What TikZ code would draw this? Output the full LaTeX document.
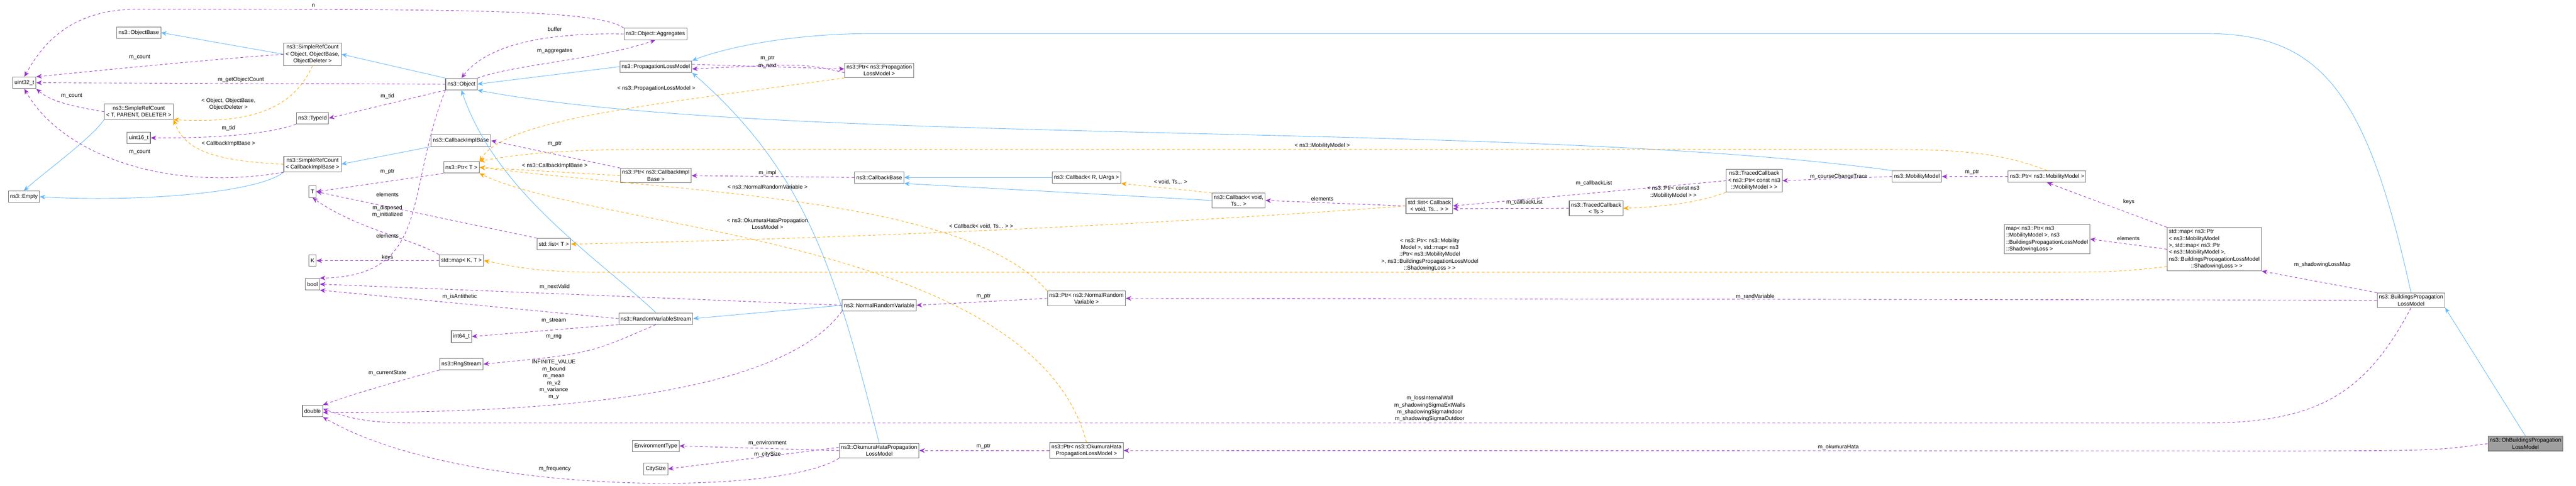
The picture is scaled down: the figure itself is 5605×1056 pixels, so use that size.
\documentclass[tikz,border=0pt]{standalone}
\usepackage{fontspec}
\setmainfont{Liberation Sans}
\usetikzlibrary{arrows.meta}
\definecolor{inhblue}{HTML}{63B8FF}
\definecolor{usepurple}{HTML}{9A32CD}
\definecolor{tplorange}{HTML}{FFA500}
\tikzset{%
  cls/.style={draw=gray!90!black, fill=white, line width=1.2pt, align=center, inner sep=4pt, minimum height=25pt, font=\fontsize{12}{15}\selectfont},
  lbl/.style={align=center, inner sep=0pt, font=\fontsize{12}{15}\selectfont},
  inh/.style={draw=inhblue, line width=1pt, -{Stealth[length=12pt,width=10pt]}},
  use/.style={draw=usepurple, line width=1pt, dash pattern=on 6pt off 5pt, -{Stealth[length=12pt,width=10pt]}},
  tpl/.style={draw=tplorange, line width=1pt, dash pattern=on 6pt off 5pt, -{Stealth[length=12pt,width=10pt]}}
}
\begin{document}
\begin{tikzpicture}[x=1pt, y=-1pt]
\useasboundingbox (0,0) rectangle (5605,1056);

% classes
\node [cls] (uint32) at (53,180) {uint32\_t};
\node [cls] (objbase) at (302,71) {ns3::ObjectBase};
\node [cls] (srcobj) at (680,118) {ns3::SimpleRefCount\\{}< Object, ObjectBase,\\ObjectDeleter >};
\node [cls] (srctpd) at (302,243) {ns3::SimpleRefCount\\{}< T, PARENT, DELETER >};
\node [cls] (typeid) at (680,257) {ns3::TypeId};
\node [cls] (uint16) at (302,300) {uint16\_t};
\node [cls] (srccib) at (680,357) {ns3::SimpleRefCount\\{}< CallbackImplBase >};
\node [cls] (empty) at (52,428) {ns3::Empty};
\node [cls] (tT) at (680,417) {T};
\node [cls] (kK) at (680,567) {K};
\node [cls] (bool) at (680,618) {bool};
\node [cls] (double) at (680,894) {double};
\node [cls] (object) at (1004,183) {ns3::Object};
\node [cls] (cibase) at (1003,306) {ns3::CallbackImplBase};
\node [cls] (ptrT) at (1004,364) {ns3::Ptr< T >};
\node [cls] (listT) at (1205,531) {std::list< T >};
\node [cls] (mapKT) at (1004,567) {std::map< K, T >};
\node [cls] (int64) at (1004,732) {int64\_t};
\node [cls] (rng) at (1004,792) {ns3::RngStream};
\node [cls] (aggr) at (1426,74) {ns3::Object::Aggregates};
\node [cls] (plm) at (1427,145) {ns3::PropagationLossModel};
\node [cls] (ptrcib) at (1427,382) {ns3::Ptr< ns3::CallbackImpl\\Base >};
\node [cls] (rvs) at (1427,693) {ns3::RandomVariableStream};
\node [cls] (envt) at (1427,970) {EnvironmentType};
\node [cls] (city) at (1427,1020) {CitySize};
\node [cls] (ptrplm) at (1913,153) {ns3::Ptr< ns3::Propagation\\LossModel >};
\node [cls] (cbbase) at (1913,386) {ns3::CallbackBase};
\node [cls] (nrv) at (1913,664) {ns3::NormalRandomVariable};
\node [cls] (oh) at (1913,980) {ns3::OkumuraHataPropagation\\LossModel};
\node [cls] (cbR) at (2364,386) {ns3::Callback< R, UArgs >};
\node [cls] (ptrnrv) at (2364,649) {ns3::Ptr< ns3::NormalRandom\\Variable >};
\node [cls] (ptroh) at (2364,980) {ns3::Ptr< ns3::OkumuraHata\\PropagationLossModel >};
\node [cls] (cbvoid) at (2695,436) {ns3::Callback< void,\\Ts... >};
\node [cls] (listcb) at (3110,448) {std::list< Callback\\{}< void, Ts... > >};
\node [cls] (tcbts) at (3473,453) {ns3::TracedCallback\\{}< Ts >};
\node [cls] (tcbmm) at (3817,393) {ns3::TracedCallback\\{}< ns3::Ptr< const ns3\\::MobilityModel > >};
\node [cls] (mm) at (4171,384) {ns3::MobilityModel};
\node [cls] (ptrmm) at (4454,384) {ns3::Ptr< ns3::MobilityModel >};
\node [cls, align=left] (mapsl) at (4454,520) {map< ns3::Ptr< ns3\\::MobilityModel >, ns3\\::BuildingsPropagationLossModel\\::ShadowingLoss >};
\node [cls, align=left] (stdmap) at (4818,542) {std::map< ns3::Ptr\\{}< ns3::MobilityModel\\ >, std::map< ns3::Ptr\\{}< ns3::MobilityModel >,\\ ns3::BuildingsPropagationLossModel\\\hspace*{4em}::ShadowingLoss > >};
\node [cls] (bplm) at (5246,653) {ns3::BuildingsPropagation\\LossModel};
\node [cls, fill=gray!75] (ohb) at (5495,965) {ns3::OhBuildingsPropagation\\LossModel};

% inheritance
\draw [inh] (srcobj.west) -- (objbase.east);
\draw [inh] (object.north west) -- (srcobj.east);
\draw [inh] (srctpd.south west) .. controls (200,300) and (90,380) .. (empty.north);
\draw [inh] (srccib.south west) .. controls (560,420) and (300,440) .. (empty.east);
\draw [inh] (cibase.south west) -- (srccib.east);
\draw [inh] (plm.west) -- (object.east);
\draw [inh] (mm.north west) .. controls (3300,260) and (1700,320) .. (object.south east);
\draw [inh] (rvs.north) .. controls (1300,560) and (1080,420) .. (object.south);
\draw [inh] (oh.north) .. controls (1820,600) and (1760,380) .. (plm.south east);
\draw [inh] (bplm.north) .. controls (5150,200) and (5050,73) .. (4800,73) -- (1900,73) .. controls (1700,73) and (1560,110) .. (plm.north east);
\draw [inh] (nrv.west) -- (rvs.east);
\draw [inh] (cbR.west) -- (cbbase.east);
\draw [inh] (cbvoid.west) -- (cbbase.south east);
\draw [inh] (ohb.north) -- (bplm.south east);

% members
\draw [use] (srcobj.west) .. controls (450,130) and (250,150) .. (uint32.north east);
\draw [use] (object.west) -- node [lbl, above=2pt] {m\_getObjectCount} (uint32.east);
\draw [use] (aggr.north west) .. controls (1300,20) and (1000,20) .. (300,20) .. controls (150,20) and (90,100) .. (uint32.north);
\draw [use] (srctpd.west) .. controls (150,230) and (110,220) .. (uint32.south east);
\draw [use] (srccib.south west) .. controls (350,420) and (130,330) .. (uint32.south);
\draw [use] (object.south west) -- (typeid.east);
\draw [use] (typeid.south west) .. controls (560,300) and (400,300) .. (uint16.east);
\draw [use] (ptrT.south west) -- (tT.east);
\draw [use] (listT.north west) -- (tT.east);
\draw [use] (mapKT.north west) .. controls (900,520) and (780,500) .. (tT.south);
\draw [use] (mapKT.west) -- (kK.east);
\draw [use] (object.south west) .. controls (880,420) and (940,600) .. (bool.north east);
\draw [use] (aggr.west) .. controls (1150,70) and (1050,110) .. (object.north);
\draw [use] (object.north east) .. controls (1120,140) and (1300,130) .. (aggr.south);
\draw [use] ([yshift=-5pt]ptrplm.west) .. controls (1750,138) .. ([yshift=-5pt]plm.east);
\draw [use] ([yshift=5pt]plm.east) -- ([yshift=3pt]ptrplm.west);
\draw [use] (ptrcib.north west) -- (cibase.east);
\draw [use] (cbbase.west) -- (ptrcib.east);
\draw [use] (ptrnrv.west) -- (nrv.east);
\draw [use] (nrv.west) -- (bool.east);
\draw [use] (rvs.west) -- (bool.south east);
\draw [use] (rvs.south west) -- (int64.east);
\draw [use] (rvs.south) .. controls (1280,770) .. (rng.east);
\draw [use] (rng.south west) .. controls (860,830) and (760,860) .. (double.north east);
\draw [use] (nrv.south west) .. controls (1700,860) and (1200,900) .. ([yshift=-3pt]double.east);
\draw [use] (bplm.south) .. controls (5150,850) and (5050,920) .. (4800,920) -- (900,920) .. controls (800,920) and (760,910) .. ([yshift=5pt]double.east);
\draw [use] (oh.south west) .. controls (1700,1080) and (1000,1080) .. (double.south east);
\draw [use] (oh.west) -- (envt.east);
\draw [use] ([yshift=7pt]oh.west) -- (city.east);
\draw [use] (ptroh.west) -- (oh.east);
\draw [use] (ohb.west) .. controls (5300,980) .. (5000,981) -- (ptroh.east);
\draw [use] (bplm.west) -- (ptrnrv.east);
\draw [use] (bplm.north west) -- (stdmap.south east);
\draw [use] (stdmap.west) -- (mapsl.east);
\draw [use] (stdmap.north west) -- (ptrmm.south);
\draw [use] (ptrmm.west) -- (mm.east);
\draw [use] (mm.west) -- (tcbmm.east);
\draw [use] (tcbmm.west) -- (listcb.east);
\draw [use] (tcbts.west) -- ([yshift=-6pt]listcb.east);
\draw [use] (listcb.west) -- (cbvoid.east);

% templates
\draw [tpl] (srcobj.south) .. controls (640,230) and (560,270) .. (srctpd.south east);
\draw [tpl] (srccib.west) .. controls (450,350) and (400,320) .. (srctpd.south east);
\draw [tpl] (ptrplm.south west) .. controls (1400,230) and (1100,260) .. (ptrT.north east);
\draw [tpl] (ptrcib.west) -- (ptrT.east);
\draw [tpl] (ptrnrv.north west) .. controls (2100,430) and (1500,420) .. (ptrT.east);
\draw [tpl] (ptroh.north) .. controls (2250,520) and (1300,500) .. (ptrT.south east);
\draw [tpl] (ptrmm.north) .. controls (4350,330) and (4250,325) .. (4100,325) -- (1400,325) .. controls (1200,325) and (1100,340) .. (ptrT.north east);
\draw [tpl] (listcb.west) .. controls (2500,490) and (1800,520) .. (listT.east);
\draw [tpl] (cbvoid.north west) -- (cbR.south east);
\draw [tpl] (tcbmm.south west) .. controls (3700,440) and (3620,450) .. (tcbts.east);
\draw [tpl] (stdmap.west |- 0,580) .. controls (4600,592) .. (4400,592) -- (1300,592) .. controls (1150,592) and (1100,575) .. (mapKT.east);

% labels
\node [lbl] (l1) at (682,12) {n};
\node [lbl] (l2) at (304,125) {m\_count};
\node [lbl] (l3) at (156,209) {m\_count};
\node [lbl] (l4) at (497,227) {< Object, ObjectBase,\\ObjectDeleter >};
\node [lbl] (l5) at (843,209) {m\_tid};
\node [lbl] (l6) at (497,279) {m\_tid};
\node [lbl] (l7) at (497,313) {< CallbackImplBase >};
\node [lbl] (l8) at (304,331) {m\_count};
\node [lbl] (l9) at (843,373) {m\_ptr};
\node [lbl] (l10) at (843,423) {elements};
\node [lbl] (l11) at (843,460) {m\_disposed\\m\_initialized};
\node [lbl] (l12) at (843,513) {elements};
\node [lbl] (l13) at (843,560) {keys};
\node [lbl] (l14) at (1000,645) {m\_isAntithetic};
\node [lbl] (l15) at (843,811) {m\_currentState};
\node [lbl] (l16) at (1207,63) {buffer};
\node [lbl] (l17) at (1207,111) {m\_aggregates};
\node [lbl] (l18) at (1670,127) {m\_ptr};
\node [lbl] (l19) at (1670,144) {m\_next};
\node [lbl] (l20) at (1428,192) {< ns3::PropagationLossModel >};
\node [lbl] (l21) at (1207,313) {m\_ptr};
\node [lbl] (l22) at (1207,361) {< ns3::CallbackImplBase >};
\node [lbl] (l23) at (1670,376) {m\_impl};
\node [lbl] (l24) at (1670,407) {< ns3::NormalRandomVariable >};
\node [lbl] (l25) at (1670,487) {< ns3::OkumuraHataPropagation\\LossModel >};
\node [lbl] (l26) at (2135,493) {< Callback< void, Ts... > >};
\node [lbl] (l27) at (1207,624) {m\_nextValid};
\node [lbl] (l28) at (1205,697) {m\_stream};
\node [lbl] (l29) at (1205,733) {m\_rng};
\node [lbl] (l30) at (1205,826) {INFINITE\_VALUE\\m\_bound\\m\_mean\\m\_v2\\m\_variance\\m\_y};
\node [lbl] (l31) at (1670,964) {m\_environment};
\node [lbl] (l32) at (1670,988) {m\_citySize};
\node [lbl] (l33) at (1207,1020) {m\_frequency};
\node [lbl] (l34) at (2140,645) {m\_ptr};
\node [lbl] (l35) at (2140,971) {m\_ptr};
\node [lbl] (l36) at (2877,317) {< ns3::MobilityModel >};
\node [lbl] (l37) at (2547,396) {< void, Ts... >};
\node [lbl] (l38) at (2877,432) {elements};
\node [lbl] (l39) at (3317,440) {m\_callbackList};
\node [lbl] (l40) at (3111,554) {< ns3::Ptr< ns3::Mobility\\Model >, std::map< ns3\\::Ptr< ns3::MobilityModel\\ >, ns3::BuildingsPropagationLossModel\\::ShadowingLoss > >};
\node [lbl] (l41) at (3111,889) {m\_lossInternalWall\\m\_shadowingSigmaExtWalls\\m\_shadowingSigmaIndoor\\m\_shadowingSigmaOutdoor};
\node [lbl] (l42) at (3468,399) {m\_callbackList};
\node [lbl] (l43) at (3641,418) {< ns3::Ptr< const ns3\\::MobilityModel > >};
\node [lbl] (l44) at (4001,384) {m\_courseChangeTrace};
\node [lbl] (l45) at (4291,375) {m\_ptr};
\node [lbl] (l46) at (4632,439) {keys};
\node [lbl] (l47) at (4631,519) {elements};
\node [lbl] (l48) at (5053,576) {m\_shadowingLossMap};
\node [lbl] (l49) at (3819,645) {m\_randVariable};
\node [lbl] (l50) at (4000,973) {m\_okumuraHata};
\end{tikzpicture}
\end{document}
